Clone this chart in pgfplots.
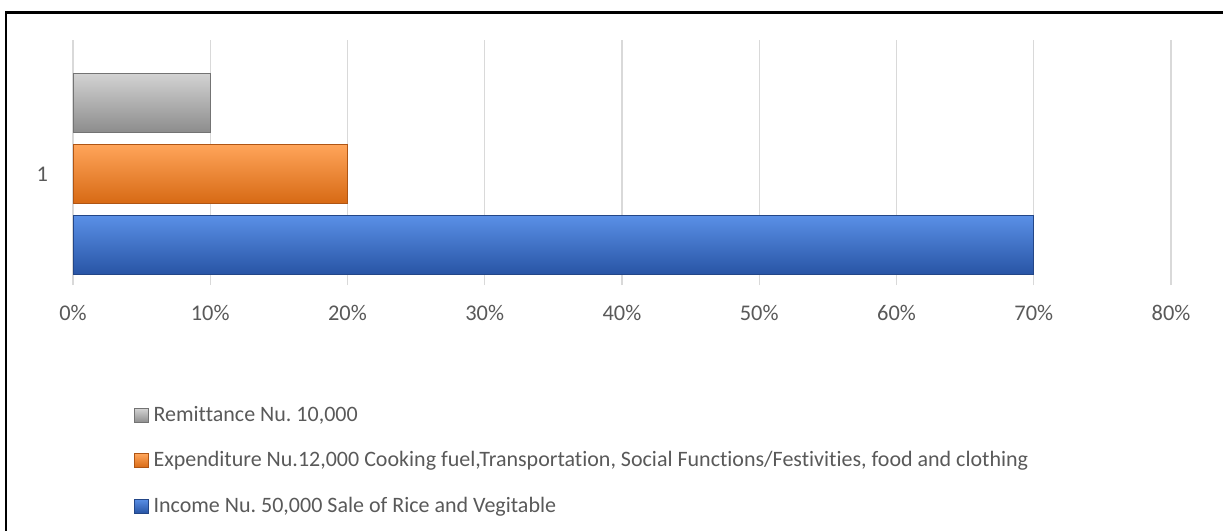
\documentclass[border=0pt]{standalone}
\usepackage{pgfplots}
\pgfplotsset{compat=1.18}
\usepackage{fontspec}
\setmainfont[Ligatures=NoCommon]{Carlito}
\frenchspacing

\definecolor{txt}{HTML}{595959}
\definecolor{gridc}{HTML}{D9D9D9}

\tikzset{
  graybar/.style={top color=gray!35, middle color=gray!70, bottom color=gray!90, draw=gray!110},
  orangebar/.style={top color={rgb,255:red,255;green,165;blue,90}, middle color={rgb,255:red,255;green,127;blue,30}, bottom color={rgb,255:red,215;green,105;blue,20}, draw={rgb,255:red,175;green,85;blue,20}},
  bluebar/.style={top color={rgb,255:red,90;green,143;blue,230}, middle color={rgb,255:red,47;green,106;blue,208}, bottom color={rgb,255:red,40;green,85;blue,165}, draw={rgb,255:red,35;green,70;blue,135}},
}

\begin{document}
\frenchspacing
\begin{tikzpicture}
\useasboundingbox (0,0) rectangle (611.5pt,265.5pt);
\draw[black, line width=1.2pt] (3pt,-10pt) -- (3pt,259.3pt) -- (630pt,259.3pt);

\begin{axis}[
  at={(36.5pt,123pt)}, anchor=south west,
  width=549pt, height=122.5pt, scale only axis,
  xmin=0, xmax=80, ymin=0, ymax=245,
  xbar, bar width=59,
  xtick={0,10,...,80},
  xticklabels={0\%,10\%,20\%,30\%,40\%,50\%,60\%,70\%,80\%},
  ytick={111}, yticklabels={1},
  xmajorgrids, grid style={draw=gridc, line width=0.6pt},
  axis line style={draw=none},
  major tick length=0pt,
  tick label style={font=\fontsize{11.2}{13}\selectfont, text=txt},
  xticklabel style={yshift=-6.5pt},
  yticklabel style={xshift=-9pt},
  reverse legend,
  legend cell align=left,
  legend style={at={(axis description cs:0.055,-0.486)}, anchor=north west,
    draw=none, fill=none, inner sep=0pt, row sep=11.5pt,
    font=\fontsize{11}{13}\selectfont\frenchspacing, text=txt,
    nodes={inner sep=1pt},
    /tikz/every odd column/.style={column sep=1.5pt}},
  legend image code/.code={\path[#1, line width=0.4pt] (0pt,-3.5pt) rectangle (7pt,3.5pt);},
]
\addplot[bluebar, bar shift=-71] coordinates {(70,111)};
\addplot[orangebar, bar shift=0] coordinates {(20,111)};
\addplot[graybar, bar shift=71] coordinates {(10,111)};
\legend{{Income Nu. 50,000 Sale of Rice and Vegitable},
  {Expenditure Nu.12,000 Cooking fuel,Transportation, Social Functions/Festivities, food and clothing},
  {Remittance Nu. 10,000}}
\end{axis}
\end{tikzpicture}
\end{document}
